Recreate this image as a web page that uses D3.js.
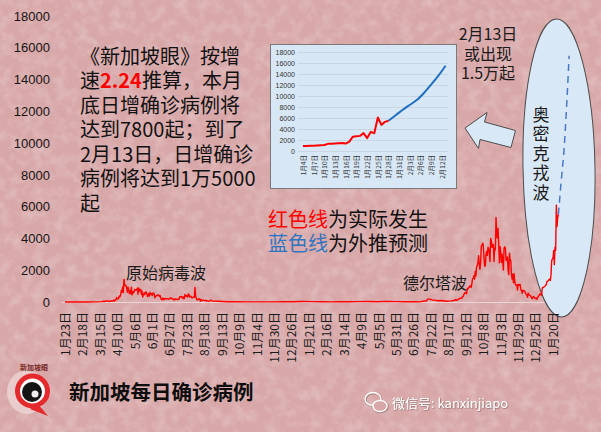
<!DOCTYPE html>
<html>
<head>
<meta charset="utf-8">
<style>
  body { margin: 0; background: #d8a7a8; }
  svg { display: block; }
  .cjk { font-family: "Noto Sans CJK SC", "Noto Sans", sans-serif; }
</style>
</head>
<body>
<svg width="601" height="432"></svg>
<script src="https://cdn.jsdelivr.net/npm/d3@7/dist/d3.min.js"></script>
<script>
// ---- data (daily new cases, Singapore) ----
var earlyDates = ["2020-01-23","2020-01-30","2020-02-06","2020-02-13","2020-02-20","2020-02-27","2020-03-05","2020-03-12","2020-03-17"];
var earlyCases = [1, 3, 3, 9, 1, 3, 7, 9, 23];

var wave1Start = "2020-03-21";
var wave1Cases = [47,23,54,49,73,52,49,70,42,35,47,
  74,49,65,75,120,66,106,142,287,198,191,233,386,334,447,728,623,942,596,1426,1111,1016,1037,897,618,931,799,528,690,528,
  932,447,657,573,632,788,741,768,753,876,486,884,675,792,793,465,682,305,451,570,448,614,642,548,344,383,533,373,611,506,518,
  408,544,569,517,261,347,407,386,451,451,422,347,407,214,151,151,247,142,218,183,218,218,191,213,191,169,213,262,213,246,
  215,185,183,120,191,183,157,183,158,191,164,322,347,322,334,248,334,203,213,481,359,416,354,313,513,469,313,351,359,280,260,
  307,313,295,908,301,242,132,137,188,200,188,42,161,100,91,123,92,86,93,116,56,87,70,50,50,76,119,120,73,52,52];

var lullDates = ["2020-09-07","2020-09-21","2020-10-05","2020-10-19","2020-11-02","2020-11-16","2020-11-30","2020-12-14","2020-12-28",
  "2021-01-11","2021-01-25","2021-02-08","2021-02-22","2021-03-08","2021-03-22","2021-04-05","2021-04-19","2021-05-03","2021-05-17",
  "2021-05-31","2021-06-14","2021-06-28","2021-07-05","2021-07-12","2021-07-15","2021-07-17","2021-07-20","2021-07-24","2021-07-28",
  "2021-08-01","2021-08-07","2021-08-14","2021-08-21"];
var lullCases = [50,20,12,8,6,5,9,14,12, 30,25,15,10,12,18,25,30,20,40, 25,15,12,8,60,56,182,179,130,120, 80,98,50,70];

var deltaStart = "2021-08-25";
var deltaCases = [94,120,113,152,110,133,156,
  180,187,219,259,240,235,332,349,457,568,555,607,520,837,807,910,935,1009,1012,917,1178,1457,1504,1650,1443,1939,1647,2236,2268,2478,
  2909,2356,2057,2475,3486,3577,3703,3590,2809,2263,2263,2976,3190,2932,3445,3348,3058,2553,3994,3862,3439,3637,3598,2553,3383,3277,5324,4248,4019,4651,3635,
  2470,3496,3163,2484,3003,2553,2017,3397,3481,3397,2612,2659,2833,2058,1723,3079,2710,2597,1734,1437,1761,1212,1782,1275,1090,1050,1090,747,1103,1109,
  1050,1101,764,740,552,747,712,705,662,547,474,446,296,562,450,436,410,361,256,211,314,344,291,254,216,245,167,280,344,398,478,
  507,462,436];

var omicronStart = "2022-01-04";
var omicronCases = [900,900,950,950,1000,1050,1100,1300,1300,1350,1400,1450,1350,1700,2600,2700,2750,3250,2350,3450,3250,6100,4750,5300,5500];

// projection at growth rate 2.24
var projDates = ["2022-01-28","2022-01-30","2022-02-01","2022-02-03","2022-02-05","2022-02-07","2022-02-09","2022-02-11","2022-02-13"];
var projCases = [5500, 6500, 7500, 8400, 9300, 10600, 12100, 13700, 15500];

var yTicks = [0,2000,4000,6000,8000,10000,12000,14000,16000,18000];
var xTicks = ["2020-01-23","2020-02-18","2020-03-15","2020-04-10","2020-05-06","2020-06-01","2020-06-27","2020-07-23","2020-08-18",
  "2020-09-13","2020-10-09","2020-11-04","2020-11-30","2020-12-26","2021-01-21","2021-02-16","2021-03-14","2021-04-09","2021-05-05",
  "2021-05-31","2021-06-26","2021-07-22","2021-08-17","2021-09-12","2021-10-08","2021-11-03","2021-11-29","2021-12-25","2022-01-20"];
var insetTicks = ["2022-01-04","2022-01-07","2022-01-10","2022-01-13","2022-01-16","2022-01-19","2022-01-22","2022-01-25","2022-01-28",
  "2022-01-31","2022-02-03","2022-02-06","2022-02-09","2022-02-12"];

// each line is a list of [text, colour, bold]
var noteLines = [
  [["《新加坡眼》按增"]],
  [["速"], ["2.24", "#ff0000", true], ["推算，本月"]],
  [["底日增确诊病例将"]],
  [["达到7800起；到了"]],
  [["2月13日，日增确诊"]],
  [["病例将达到1万5000"]],
  [["起"]]
];
var legendLines = [
  [["红色线", "#ff0000"], ["为实际发生"]],
  [["蓝色线", "#2f74c0"], ["为外推预测"]]
];
var forecastLines = ["2月13日", "或出现", "1.5万起"];

// ---- helpers ----
var parse = d3.timeParse("%Y-%m-%d");
var fmt = d3.timeFormat("%-m月%-d日");
function pairs(dates, vals) { return dates.map(function(d, i) { return {date: parse(d), value: vals[i]}; }); }
function daily(start, vals) {
  var s = parse(start);
  return vals.map(function(v, i) { return {date: d3.timeDay.offset(s, i), value: v}; });
}
// one <text> with a line of tspans per row
function block(parent, x, y0, step, lines) {
  var t = parent.append("text");
  lines.forEach(function(parts, i) {
    parts.forEach(function(p, j) {
      var s = t.append("tspan").text(p[0]);
      if (j === 0) s.attr("x", x).attr("y", y0 + i * step);
      if (p[1]) s.attr("fill", p[1]);
      if (p[2]) s.attr("font-weight", "bold");
    });
  });
  return t;
}

var actual = [].concat(pairs(earlyDates, earlyCases), daily(wave1Start, wave1Cases), pairs(lullDates, lullCases),
                       daily(deltaStart, deltaCases), daily(omicronStart, omicronCases));
var omicron = daily(omicronStart, omicronCases);
var proj = pairs(projDates, projCases);

var svg = d3.select("svg");
var defs = svg.append("defs");

// paper texture
var f = defs.append("filter").attr("id", "paper").attr("x", 0).attr("y", 0).attr("width", "100%").attr("height", "100%");
f.append("feTurbulence").attr("type", "fractalNoise").attr("baseFrequency", "0.09").attr("numOctaves", 3).attr("seed", 7);
f.append("feColorMatrix").attr("type", "matrix").attr("values", "0 0 0 0 1  0 0 0 0 1  0 0 0 0 1  1.4 0 0 0 -0.55");

var sh = defs.append("filter").attr("id", "shadow").attr("x", "-10%").attr("y", "-30%").attr("width", "120%").attr("height", "160%");
sh.append("feDropShadow").attr("dx", 0.6).attr("dy", 0.6).attr("stdDeviation", 0.6).attr("flood-color", "#6a5050").attr("flood-opacity", 0.8);

svg.append("rect").attr("width", 601).attr("height", 432).attr("fill", "#d8a7a8");
svg.append("rect").attr("width", 601).attr("height", 432).attr("filter", "url(#paper)").attr("opacity", 0.35);

// ---- main chart ----
var x = d3.scaleTime().domain([parse("2020-01-23"), parse("2022-01-20")]).range([65, 553]);
var y = d3.scaleLinear().domain([0, 18000]).range([302, 16]);

// baseline
svg.append("line").attr("x1", 62).attr("x2", 575).attr("y1", y(0) + 0.5).attr("y2", y(0) + 0.5)
  .attr("stroke", "#ead6d6").attr("stroke-width", 1);

// omicron ellipse
svg.append("ellipse").attr("cx", 559).attr("cy", 168).attr("rx", 36).attr("ry", 149)
  .attr("transform", "rotate(-1,559,168)")
  .attr("fill", "#d9e8f6").attr("stroke", "#4d4d4d").attr("stroke-width", 1);

// y axis
var yAxis = svg.append("g").attr("transform", "translate(53,0)")
  .call(d3.axisLeft(y).tickValues(yTicks).tickSize(0).tickPadding(3).tickFormat(d3.format("d")));
yAxis.select(".domain").remove();
yAxis.selectAll("text").attr("font-family", "'Liberation Sans', Arial, sans-serif").attr("font-size", 13).attr("fill", "#151515");

// x axis
var xAxis = svg.append("g").attr("transform", "translate(0," + y(0) + ")")
  .call(d3.axisBottom(x).tickValues(xTicks.map(parse)).tickSize(0).tickFormat(fmt));
xAxis.select(".domain").remove();
xAxis.selectAll("text")
  .attr("class", "cjk").attr("font-size", 12).attr("fill", "#1a1a1a")
  .attr("transform", "rotate(-90)").attr("x", -10).attr("y", 0).attr("dy", "0.36em")
  .style("text-anchor", "end");

var line = d3.line().x(function(d) { return x(d.date); }).y(function(d) { return y(d.value); });

svg.append("path").datum(proj).attr("d", line.curve(d3.curveMonotoneX))
  .attr("fill", "none").attr("stroke", "#4a78c8").attr("stroke-width", 1.5).attr("stroke-dasharray", "7,5");
svg.append("path").datum(actual).attr("d", line.curve(d3.curveLinear))
  .attr("fill", "none").attr("stroke", "#ff0000").attr("stroke-width", 1.4).attr("stroke-linejoin", "round");

// wave labels
svg.append("text").attr("class", "cjk").attr("x", 126).attr("y", 279).attr("font-size", 16).attr("fill", "#1a1a1a").text("原始病毒波");
svg.append("text").attr("class", "cjk").attr("x", 403).attr("y", 289).attr("font-size", 16).attr("fill", "#1a1a1a").text("德尔塔波");

// ellipse label (vertical, one text)
svg.append("text").attr("class", "cjk").attr("x", 541).attr("y", 106)
  .style("writing-mode", "vertical-rl").style("text-orientation", "upright")
  .attr("letter-spacing", 2.5).attr("font-size", 17).attr("fill", "#1a1a1a").text("奥密克戎波");

// ---- note text ----
var note = svg.append("g").attr("class", "cjk").attr("font-size", 20).attr("fill", "#111");
block(note, 80, 63.5, 24.5, noteLines);

// legend text
var lg = svg.append("g").attr("class", "cjk").attr("font-size", 20).attr("fill", "#111");
block(lg, 268, 227, 24, legendLines);

// ---- inset chart ----
svg.append("rect").attr("x", 270.5).attr("y", 44.5).attr("width", 186).attr("height", 144)
  .attr("fill", "#d8e7f5").attr("stroke", "#7a7a7a").attr("stroke-width", 1);
var ix = d3.scaleTime().domain([parse("2022-01-04"), parse("2022-02-12")]).range([303, 442]);
var iy = d3.scaleLinear().domain([0, 18000]).range([151, 52]);

var grid = svg.append("g").attr("transform", "translate(298,0)")
  .call(d3.axisLeft(iy).tickValues(yTicks).tickSize(-150).tickFormat(""));
grid.select(".domain").remove();
grid.selectAll("line").attr("stroke", "#c5d0dc").attr("stroke-width", 0.8);

var iyAxis = svg.append("g").attr("transform", "translate(298,0)")
  .call(d3.axisLeft(iy).tickValues(yTicks).tickSize(0).tickPadding(3).tickFormat(d3.format("d")));
iyAxis.select(".domain").remove();
iyAxis.selectAll("text").attr("font-family", "'Liberation Sans', Arial, sans-serif").attr("font-size", 7).attr("fill", "#333");

var ixAxis = svg.append("g").attr("transform", "translate(0,151)")
  .call(d3.axisBottom(ix).tickValues(insetTicks.map(parse)).tickSize(0).tickFormat(fmt));
ixAxis.select(".domain").remove();
ixAxis.selectAll("text")
  .attr("class", "cjk").attr("font-size", 6.5).attr("fill", "#333")
  .attr("transform", "rotate(-90)").attr("x", -4).attr("y", 0).attr("dy", "0.36em")
  .style("text-anchor", "end");

var iline = d3.line().x(function(d) { return ix(d.date); }).y(function(d) { return iy(d.value); });
svg.append("path").datum(proj).attr("d", iline.curve(d3.curveMonotoneX))
  .attr("fill", "none").attr("stroke", "#1f6fc0").attr("stroke-width", 2);
svg.append("path").datum(omicron).attr("d", iline.curve(d3.curveLinear))
  .attr("fill", "none").attr("stroke", "#ff0000").attr("stroke-width", 2).attr("stroke-linejoin", "round");

// arrow pointing to inset
svg.append("path")
  .attr("d", "M465,128 L487,112.5 L484.5,122 L515.5,130.5 L511,147.5 L480,139.5 L478.5,148.5 Z")
  .attr("fill", "#d9e8f6").attr("stroke", "#4d4d4d").attr("stroke-width", 1).attr("stroke-linejoin", "round");

// forecast note
var fc = svg.append("g").attr("class", "cjk").attr("font-size", 16).attr("fill", "#1a1a1a").attr("text-anchor", "middle");
block(fc, 488, 40, 19.5, forecastLines.map(function(t) { return [[t]]; }));

// ---- footer ----
var logo = svg.append("g");
logo.append("ellipse").attr("cx", 27).attr("cy", 392).attr("rx", 20).attr("ry", 22).attr("fill", "#efd9d9").attr("opacity", 0.7);
logo.append("path").attr("d", "M38,404 L48,416 L30,409 Z").attr("fill", "#e42a2c");
logo.append("circle").attr("cx", 32.5).attr("cy", 391).attr("r", 15).attr("fill", "#fff").attr("stroke", "#e42a2c").attr("stroke-width", 5);
logo.append("circle").attr("cx", 32).attr("cy", 392).attr("r", 10).attr("fill", "#141414");
logo.append("circle").attr("cx", 35).attr("cy", 394).attr("r", 3.5).attr("fill", "#eee");
logo.append("text").attr("class", "cjk").attr("x", 34).attr("y", 370).attr("text-anchor", "middle")
  .attr("font-size", 7).attr("font-weight", "bold").attr("fill", "#7a2a2a").text("新加坡眼");

svg.append("text").attr("class", "cjk").attr("x", 69).attr("y", 400).attr("font-size", 20.5).attr("font-weight", "bold")
  .attr("fill", "#0d0d0d").text("新加坡每日确诊病例");

// wechat watermark
var wm = svg.append("g").attr("fill", "none").attr("stroke", "#fff").attr("stroke-width", 1.3).attr("filter", "url(#shadow)");
wm.append("ellipse").attr("cx", 373).attr("cy", 399).attr("rx", 8).attr("ry", 6.5);
wm.append("ellipse").attr("cx", 380).attr("cy", 406).attr("rx", 7).attr("ry", 5.5).attr("fill", "#d8a7a8");
svg.append("text").attr("class", "cjk").attr("x", 392).attr("y", 408).attr("font-size", 13)
  .attr("fill", "#ffffff").attr("filter", "url(#shadow)").text("微信号: kanxinjiapo");
</script>
</body>
</html>
